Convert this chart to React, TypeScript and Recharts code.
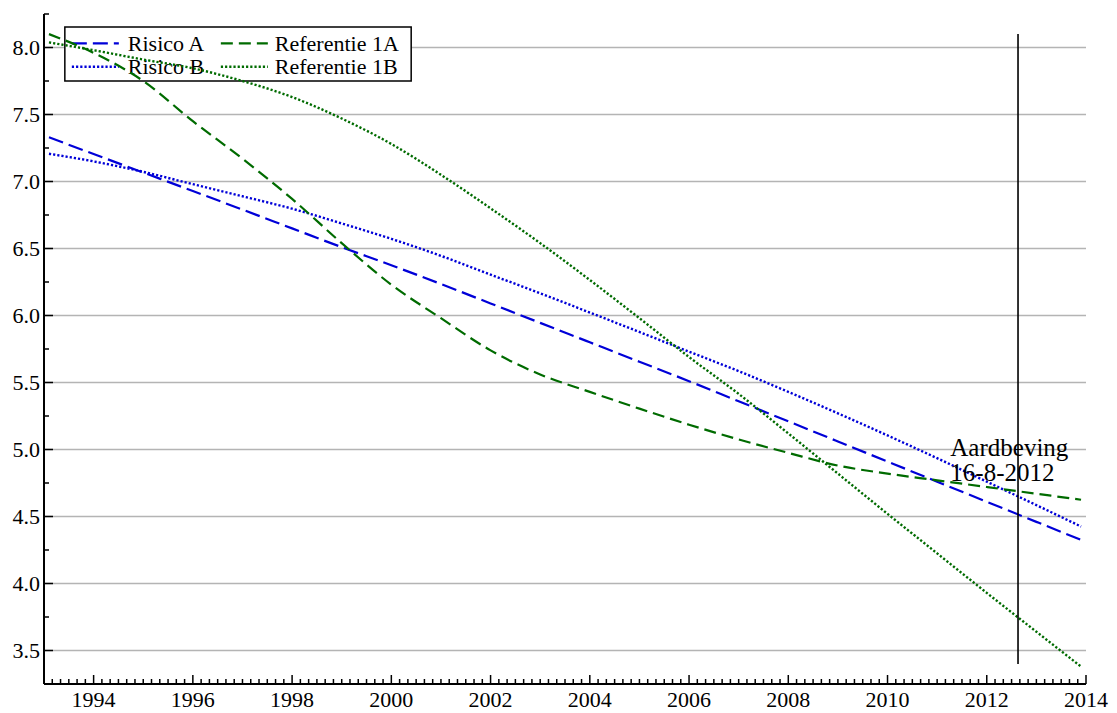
import { LineChart, Line, XAxis, YAxis, CartesianGrid, ReferenceLine, ReferenceArea } from 'recharts';

// sample points (decimal years) and the four trend curves
const years = [1993.1, 1994, 1995, 1996, 1997, 1998, 1999, 2000, 2001, 2002, 2003, 2004, 2005, 2006, 2007, 2008, 2009, 2010, 2011, 2012, 2013, 2013.9];
const risicoA = [7.33, 7.205, 7.067, 6.929, 6.79, 6.65, 6.51, 6.375, 6.235, 6.09, 5.945, 5.8, 5.655, 5.51, 5.36, 5.21, 5.06, 4.91, 4.76, 4.61, 4.46, 4.325];
const risicoB = [7.207, 7.15, 7.072, 6.98, 6.89, 6.797, 6.687, 6.572, 6.445, 6.305, 6.166, 6.022, 5.877, 5.73, 5.585, 5.43, 5.27, 5.105, 4.935, 4.76, 4.585, 4.425];
const referentie1A = [8.1, 7.96, 7.75, 7.45, 7.17, 6.87, 6.54, 6.23, 5.98, 5.74, 5.56, 5.43, 5.305, 5.185, 5.075, 4.975, 4.88, 4.82, 4.77, 4.72, 4.67, 4.625];
const referentie1B = [8.038, 7.98, 7.91, 7.845, 7.75, 7.63, 7.47, 7.28, 7.05, 6.8, 6.54, 6.265, 5.98, 5.69, 5.415, 5.12, 4.82, 4.52, 4.225, 3.93, 3.64, 3.38];

const yMajorTicks = [3.5, 4.0, 4.5, 5.0, 5.5, 6.0, 6.5, 7.0, 7.5, 8.0];
const yMinorTicks = [3.25, 3.75, 4.25, 4.75, 5.25, 5.75, 6.25, 6.75, 7.25, 7.75, 8.25];
const xMajorTicks = [1994, 1996, 1998, 2000, 2002, 2004, 2006, 2008, 2010, 2012, 2014];

const quakeYear = 2012.63;
const quakeLabel = ['Aardbeving', '16-8-2012'];

const BLUE = '#0000d8';
const GREEN = '#006b00';
const FONT = '"Liberation Serif", "Times New Roman", serif';

const SERIES = [
  { key: 'risicoA', name: 'Risico A', color: BLUE, dash: '15 6', width: 2.2 },
  { key: 'risicoB', name: 'Risico B', color: BLUE, dash: '2.2 2', width: 2.4 },
  { key: 'referentie1A', name: 'Referentie 1A', color: GREEN, dash: '12 6', width: 2.2 },
  { key: 'referentie1B', name: 'Referentie 1B', color: GREEN, dash: '2.2 2', width: 2.4 },
];

const data = years.map((year, i) => ({
  year,
  risicoA: risicoA[i],
  risicoB: risicoB[i],
  referentie1A: referentie1A[i],
  referentie1B: referentie1B[i],
}));

// minor ticks every two months
const xTicks = Array.from({ length: 21 * 6 + 1 }, (_, i) => 1993 + i / 6);
const yTicks = [...yMinorTicks, ...yMajorTicks].sort((a, b) => a - b);

const X_MARGIN = 7;
const Y_MARGIN = 4;

const isIn = (list: number[], v: number) => list.some((m) => Math.abs(m - v) < 1e-6);

const XTick = ({ x, y, payload }: any) => {
  const major = isIn(xMajorTicks, payload.value);
  const axisY = y - X_MARGIN;
  return (
    <g>
      <line x1={x} x2={x} y1={axisY} y2={axisY - (major ? 9 : 5)} stroke="#000" strokeWidth={1.5} />
      {major && (
        <text x={x} y={y} dy="0.71em" textAnchor="middle" fontSize={22} fontFamily={FONT} fill="#000">
          {Math.round(payload.value)}
        </text>
      )}
    </g>
  );
};

const YTick = ({ x, y, payload }: any) => {
  const major = isIn(yMajorTicks, payload.value);
  const axisX = x + Y_MARGIN;
  return (
    <g>
      <line x1={axisX} x2={axisX + (major ? 9 : 5)} y1={y} y2={y} stroke="#000" strokeWidth={1.5} />
      {major && (
        <text x={x} y={y} dy="0.35em" textAnchor="end" fontSize={22} fontFamily={FONT} fill="#000">
          {payload.value.toFixed(1)}
        </text>
      )}
    </g>
  );
};

const renderQuakeLabel = ({ viewBox }: any) => {
  if (!viewBox) return null;
  const left = viewBox.x - 67.7;
  return (
    <text fontSize={25} fontFamily={FONT} fill="#000" textAnchor="start">
      <tspan x={left} y={viewBox.y + 421.6}>{quakeLabel[0]}</tspan>
      <tspan x={left} y={viewBox.y + 446.6}>{quakeLabel[1]}</tspan>
    </text>
  );
};

const renderLegend = ({ viewBox }: any) => {
  if (!viewBox) return null;
  const { x, y } = viewBox;
  const sampleX = [7, 156];
  const textX = [63, 210];
  const rowY = [16.3, 39.7];
  const baseY = [23.7, 47];
  return (
    <g>
      {SERIES.map((s, i) => {
        const col = Math.floor(i / 2);
        const row = i % 2;
        return (
          <g key={s.key}>
            <line
              x1={x + sampleX[col]}
              x2={x + sampleX[col] + 47}
              y1={y + rowY[row]}
              y2={y + rowY[row]}
              stroke={s.color}
              strokeWidth={s.width}
              strokeDasharray={s.dash}
            />
            <text x={x + textX[col]} y={y + baseY[row]} fontSize={22} fontFamily={FONT} fill="#000">
              {s.name}
            </text>
          </g>
        );
      })}
    </g>
  );
};

export default function App() {
  return (
    <div style={{ width: 1117, height: 713, fontFamily: FONT }}>
      <style>{'body{margin:0}'}</style>
      <LineChart width={1117} height={713} data={data} margin={{ top: 14, right: 31, bottom: 0, left: 0 }}>
        <CartesianGrid vertical={false} horizontalValues={yMajorTicks} stroke="#b4b4b4" strokeWidth={1.5} />
        <XAxis
          dataKey="year"
          type="number"
          domain={[1993, 2014]}
          ticks={xTicks}
          interval={0}
          allowDataOverflow
          height={29}
          tickSize={0}
          tickMargin={X_MARGIN}
          tickLine={false}
          axisLine={{ stroke: '#000', strokeWidth: 2 }}
          tick={<XTick />}
        />
        <YAxis
          type="number"
          domain={[3.25, 8.25]}
          ticks={yTicks}
          interval={0}
          allowDataOverflow
          width={44}
          tickSize={0}
          tickMargin={Y_MARGIN}
          tickLine={false}
          axisLine={{ stroke: '#000', strokeWidth: 2 }}
          tick={<YTick />}
        />
        <ReferenceArea
          x1={1993.42}
          x2={2000.4}
          y1={7.75}
          y2={8.153}
          fill="#fff"
          fillOpacity={1}
          stroke="#000"
          strokeWidth={1.5}
          label={renderLegend}
        />
        {SERIES.map((s) => (
          <Line
            key={s.key}
            dataKey={s.key}
            name={s.name}
            type="monotone"
            stroke={s.color}
            strokeWidth={s.width}
            strokeDasharray={s.dash}
            dot={false}
            activeDot={false}
            isAnimationActive={false}
          />
        ))}
        <ReferenceLine
          segment={[
            { x: quakeYear, y: 3.4 },
            { x: quakeYear, y: 8.1 },
          ]}
          stroke="#000"
          strokeWidth={1.6}
          label={renderQuakeLabel}
        />
      </LineChart>
    </div>
  );
}
